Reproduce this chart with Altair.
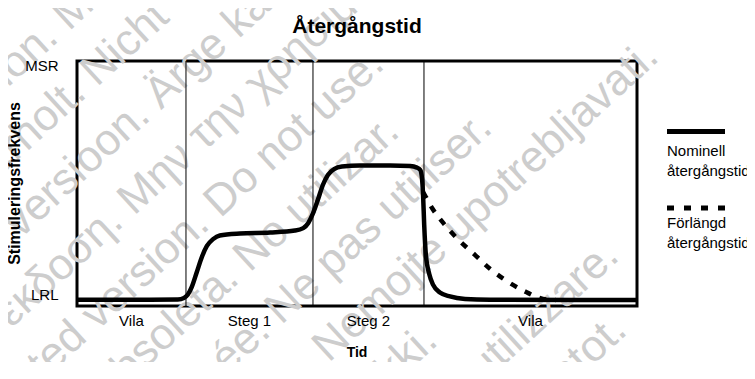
import math
import altair as alt
import pandas as pd

FONT = "Liberation Sans"

# ---- data (time 0-100, rate 0-100) ----
nom_time = [0, 13.0, 18.0, 19.1, 19.8, 20.5, 21.4, 22.3, 23.2, 24.3, 25.5, 29.1, 34.5,
            38.9, 40.4, 41.3, 42.1, 43.0, 43.9, 44.8, 45.9, 47.3, 50.5, 55.9, 59.5,
            60.7, 61.3, 61.6, 61.8, 62.0, 62.3, 62.9, 63.6, 64.8, 66.6, 69.3, 73.8, 100]
nom_rate = [2.6, 2.6, 2.7, 3.3, 4.7, 7.8, 13.9, 20.0, 24.5, 27.3, 28.8, 29.6, 30.0,
            30.8, 31.8, 33.9, 37.6, 43.3, 49.4, 53.5, 55.9, 56.9, 57.3, 57.3, 57.1,
            56.5, 55.5, 52.2, 45.3, 33.1, 20.8, 13.1, 8.6, 5.5, 3.9, 2.9, 2.6, 2.4]

ext_time = [61.8, 62.1, 63.4, 65.4, 68.0, 71.1, 73.8, 77.0, 80.2, 83.2, 85.5]
ext_rate = [46.5, 45.3, 40.0, 33.9, 27.3, 20.8, 15.1, 9.8, 5.7, 2.9, 2.4]

phase_bounds = [19.46, 42.14, 61.96]
phase_names = ["Vila", "Steg 1", "Steg 2", "Vila"]
phase_centers = [9.73, 30.8, 52.05, 80.98]

y_tick_values = [2.6, 96.0]
y_tick_labels = ["LRL", "MSR"]

chart_title = "Återgångstid"
x_title = "Tid"
y_title = "Stimuleringsfrekvens"
legend_texts = [["Nominell", "återgångstid"], ["Förlängd", "återgångstid"]]

watermark_lines = [
    "Zastaralá verze. Nepoužívat.",
    "Forældet version. Må ikke anvendes.",
    "Version überholt. Nicht verwenden.",
    "Aegunud versioon. Ärge kasutage.",
    "Παλιά έκδοση. Μην την χρησιμοποιείτε.",
    "Outdated version. Do not use.",
    "Versión obsoleta. No utilizar.",
    "Version périmée. Ne pas utiliser.",
    "Zastarjela verzija. Nemojte upotrebljavati.",
    "Úrelt útgáfa. Notið ekki.",
    "Versione obsoleta. Non utilizzare.",
    "Novecojusi versija. Neizmantot.",
    "Pasenusi versija. Nenaudokite.",
    "Elavult verzió. Ne használja!",
    "Dit is een verouderde versie. Niet gebruiken.",
]

W, H = 560, 245
x_scale = alt.Scale(domain=[0, 100], nice=False, zero=False)
y_scale = alt.Scale(domain=[0, 100], nice=False, zero=False)

label_expr = " : ".join(
    [f"datum.value == {v} ? '{l}'" for v, l in zip(y_tick_values[:-1], y_tick_labels[:-1])]
    + [f"'{y_tick_labels[-1]}'"]
)
y_axis = alt.Axis(values=y_tick_values, labelExpr=label_expr, ticks=False,
                  tickSize=0, domain=False, grid=False, labelPadding=19,
                  labelFont=FONT, labelFontSize=15, labelColor="black",
                  labelBaseline="alphabetic", labelFlush=False, title=None, zindex=2)

layers = []

# ---- watermark ----
ang = 42.5
ca, sa = math.cos(math.radians(ang)), math.sin(math.radians(ang))
for k, line in enumerate(watermark_lines, start=1):
    p = 310 + 60 * (k - 6)
    t0 = -335 - 5 * (k - 4)
    X = t0 * ca + p * sa
    Y = -t0 * sa + p * ca
    layers.append(
        alt.Chart(alt.Data(values=[{}])).mark_text(
            text=line, angle=360 - ang, align="left", baseline="alphabetic",
            font=FONT, fontSize=44, color="#cdcdcd"
        ).encode(x=alt.value(X - 77), y=alt.value(Y - 61))
    )

# ---- phase separators ----
bounds_df = pd.DataFrame({"t": phase_bounds})
layers.append(
    alt.Chart(bounds_df).mark_rule(color="black", strokeWidth=1).encode(
        x=alt.X("t:Q", scale=x_scale, axis=None)
    )
)

# ---- curves ----
ext_df = pd.DataFrame({"t": ext_time, "rate": ext_rate})
layers.append(
    alt.Chart(ext_df).mark_line(color="black", strokeWidth=4.5, strokeDash=[7, 9],
                                interpolate="monotone", strokeCap="butt").encode(
        x=alt.X("t:Q", scale=x_scale, axis=None),
        y=alt.Y("rate:Q", scale=y_scale, axis=y_axis),
    )
)

nom_df = pd.DataFrame({"t": nom_time, "rate": nom_rate})
layers.append(
    alt.Chart(nom_df).mark_line(color="black", strokeWidth=4.5, interpolate="monotone").encode(
        x=alt.X("t:Q", scale=x_scale, axis=None),
        y=alt.Y("rate:Q", scale=y_scale, axis=y_axis),
    )
)

# ---- phase labels ----
phase_df = pd.DataFrame({"c": phase_centers, "name": phase_names})
layers.append(
    alt.Chart(phase_df).mark_text(font=FONT, fontSize=15, color="black",
                                  baseline="alphabetic", align="center").encode(
        x=alt.X("c:Q", scale=x_scale, axis=None),
        y=alt.value(264.7),
        text="name:N",
    )
)

def txt(s, x, y, size=15, bold=False, align="left", angle=0):
    return alt.Chart(alt.Data(values=[{}])).mark_text(
        text=s, font=FONT, fontSize=size, fontWeight="bold" if bold else "normal",
        color="black", align=align, baseline="alphabetic", angle=angle
    ).encode(x=alt.value(x), y=alt.value(y))

layers.append(txt(chart_title, W / 2, -28.3, size=21, bold=True, align="center"))
layers.append(txt(x_title, W / 2, 296, size=14, bold=True, align="center"))
layers.append(txt(y_title, -57, H / 2, size=16, bold=True, align="center", angle=270))

# ---- legend ----
leg_x0, leg_x1 = 590, 648
layers.append(
    alt.Chart(alt.Data(values=[{}])).mark_rule(color="black", strokeWidth=5).encode(
        x=alt.value(leg_x0), x2=alt.value(leg_x1), y=alt.value(70.5)
    )
)
layers.append(
    alt.Chart(alt.Data(values=[{}])).mark_rule(color="black", strokeWidth=5,
                                               strokeDash=[7, 10], strokeCap="butt").encode(
        x=alt.value(leg_x0), x2=alt.value(leg_x1), y=alt.value(147)
    )
)
layers.append(txt(legend_texts[0][0], leg_x0, 95))
layers.append(txt(legend_texts[0][1], leg_x0, 114.7))
layers.append(txt(legend_texts[1][0], leg_x0, 167))
layers.append(txt(legend_texts[1][1], leg_x0, 186.7))

chart = alt.layer(*layers).properties(
    width=W, height=H,
    padding={"left": 69, "top": 53, "right": 110, "bottom": 56},
    autosize=alt.AutoSizeParams(type="none"),
).configure_view(stroke="black", strokeWidth=3)

chart.save("out.html", embed_options={"renderer": "svg", "actions": False})
